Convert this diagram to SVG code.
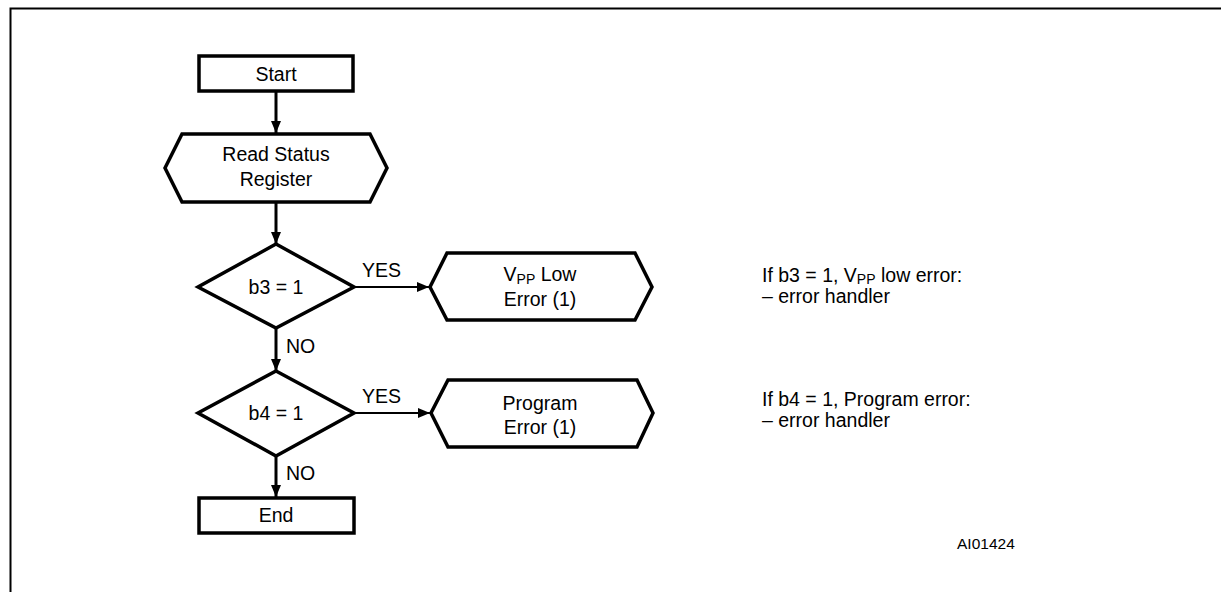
<svg xmlns="http://www.w3.org/2000/svg" width="1221" height="592" viewBox="0 0 1221 592">
<defs>
<marker id="ah" viewBox="0 0 12 10" refX="12" refY="5" markerWidth="12" markerHeight="10" markerUnits="userSpaceOnUse" orient="auto">
<path d="M0,0 L12,5 L0,10 Z" fill="#000"/>
</marker>
</defs>
<style>
.node{fill:#fff;stroke:#000;stroke-width:3.5;stroke-linejoin:miter}
.t{font-family:"Liberation Sans",Arial,sans-serif;font-size:19.5px;fill:#000;text-anchor:middle}
.l{font-family:"Liberation Sans",Arial,sans-serif;font-size:19.5px;fill:#000}
.sub{font-size:14px}
.v{stroke:#000;stroke-width:3;fill:none}
.h{stroke:#000;stroke-width:1.8;fill:none}
</style>
<rect width="1221" height="592" fill="#fff"/>
<path d="M10.5,600 L10.5,8.5 L1230,8.5" fill="none" stroke="#000" stroke-width="2"/>

<g id="connectors">
<line class="v" x1="276" y1="92" x2="276" y2="133" marker-end="url(#ah)"/>
<line class="v" x1="276" y1="202" x2="276" y2="244" marker-end="url(#ah)"/>
<line class="h" x1="354" y1="287" x2="429" y2="287" marker-end="url(#ah)"/>
<line class="v" x1="276" y1="328" x2="276" y2="371" marker-end="url(#ah)"/>
<line class="h" x1="354" y1="413" x2="430" y2="413" marker-end="url(#ah)"/>
<line class="v" x1="276" y1="457" x2="276" y2="497" marker-end="url(#ah)"/>
<text class="l" x="362" y="277">YES</text>
<text class="l" x="286" y="353">NO</text>
<text class="l" x="362" y="403">YES</text>
<text class="l" x="286" y="480">NO</text>
</g>

<g id="start">
<rect class="node" x="199" y="56" width="154" height="35"/>
<text class="t" x="276" y="81">Start</text>
</g>

<g id="read-status">
<polygon class="node" points="182,134 370,134 387,168 370,202 182,202 165,168"/>
<text class="t" x="276" y="161">Read Status</text>
<text class="t" x="276" y="186">Register</text>
</g>

<g id="b3">
<polygon class="node" points="276,244 354,287 276,328 198,287"/>
<text class="t" x="276" y="294">b3 = 1</text>
</g>

<g id="vpp-low">
<polygon class="node" points="447,253 635,253 652,287 635,320 447,320 430,287"/>
<text class="t" x="540" y="281">V<tspan class="sub" dy="3">PP</tspan><tspan dy="-3"> Low</tspan></text>
<text class="t" x="540" y="306">Error (1)</text>
</g>

<g id="b4">
<polygon class="node" points="276,371 354,413 276,456 198,413"/>
<text class="t" x="276" y="420">b4 = 1</text>
</g>

<g id="program-error">
<polygon class="node" points="448,380 637,380 653,413 637,447 448,447 431,413"/>
<text class="t" x="540" y="410">Program</text>
<text class="t" x="540" y="434">Error (1)</text>
</g>

<g id="end">
<rect class="node" x="199" y="498" width="155" height="35"/>
<text class="t" x="276" y="522">End</text>
</g>

<g id="notes">
<text class="l" x="762" y="282">If b3 = 1, V<tspan class="sub" dy="2">PP</tspan><tspan dy="-2"> low error:</tspan></text>
<text class="l" x="762" y="303">– error handler</text>
<text class="l" x="762" y="406">If b4 = 1, Program error:</text>
<text class="l" x="762" y="427">– error handler</text>
<text class="l" x="957" y="549" style="font-size:15.5px">AI01424</text>
</g>
</svg>
